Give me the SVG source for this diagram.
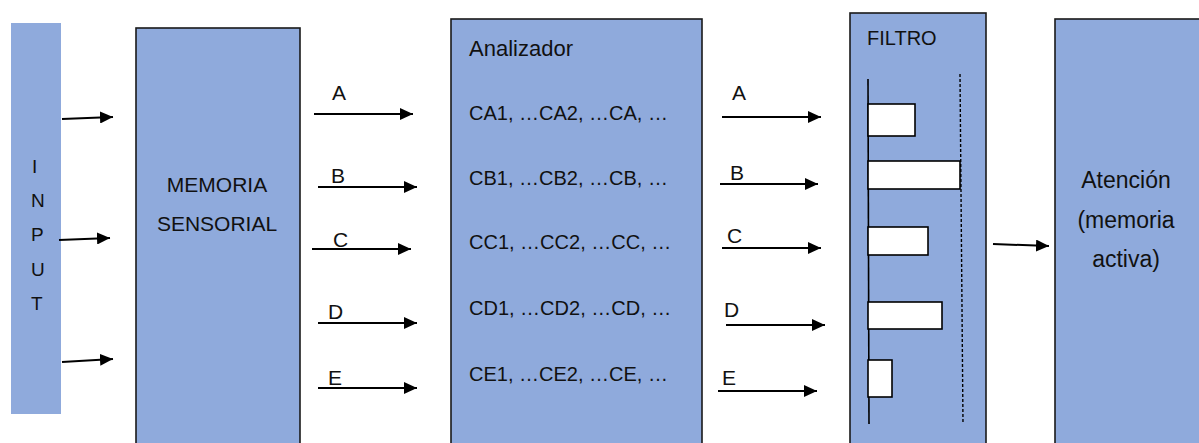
<svg xmlns="http://www.w3.org/2000/svg" width="1199" height="443" viewBox="0 0 1199 443">
<style>
.box{fill:#8FAADC;stroke:#1a1a1a;stroke-width:1.6}
.t{font-family:"Liberation Sans",Arial,sans-serif;fill:#111}
.arr{stroke:#000;stroke-width:2;fill:none;marker-end:url(#ah)}
.bar{fill:#fff;stroke:#000;stroke-width:1.6}
</style>
<defs>
<marker id="ah" markerUnits="userSpaceOnUse" markerWidth="14" markerHeight="12" refX="13" refY="6" orient="auto">
<path d="M0,0 L13,6 L0,12 z" fill="#000"/>
</marker>
</defs>
<rect x="0" y="0" width="1199" height="443" fill="#fff"/>
<g id="input">
<rect x="11" y="23" width="50" height="391" fill="#8FAADC"/>
<g class="t" font-size="19">
<text x="32" y="173">I</text>
<text x="31" y="207">N</text>
<text x="31" y="241">P</text>
<text x="31" y="276">U</text>
<text x="31" y="310">T</text>
</g>
</g>
<g id="memoria">
<rect class="box" x="136" y="28" width="164" height="430"/>
<text class="t" font-size="21" text-anchor="middle" x="217" y="192">MEMORIA</text>
<text class="t" font-size="21" text-anchor="middle" x="217" y="231">SENSORIAL</text>
</g>
<g id="analizador">
<rect class="box" x="451" y="19" width="251" height="440"/>
<g class="t" font-size="20">
<text x="469" y="56" font-size="22">Analizador</text>
<text x="469" y="120">CA1, …CA2, …CA, …</text>
<text x="469" y="185">CB1, …CB2, …CB, …</text>
<text x="469" y="249">CC1, …CC2, …CC, …</text>
<text x="469" y="315">CD1, …CD2, …CD, …</text>
<text x="469" y="381">CE1, …CE2, …CE, …</text>
</g>
</g>
<g id="filtro">
<rect class="box" x="850" y="13" width="136" height="446"/>
<text class="t" font-size="20" x="867" y="45">FILTRO</text>
<line x1="868" y1="79" x2="869" y2="424" stroke="#000" stroke-width="1.6"/>
<line x1="960" y1="74" x2="963" y2="424" stroke="#000" stroke-width="1.4" stroke-dasharray="3,2"/>
<rect class="bar" x="868" y="104" width="47" height="32"/>
<rect class="bar" x="868" y="161" width="92" height="28"/>
<rect class="bar" x="868" y="227" width="60" height="28"/>
<rect class="bar" x="868" y="302" width="74" height="27"/>
<rect class="bar" x="868" y="360" width="24" height="37"/>
</g>
<g id="atencion">
<rect class="box" x="1055" y="19" width="150" height="440"/>
<g class="t" font-size="23" text-anchor="middle">
<text x="1126" y="188">Atención</text>
<text x="1126" y="228">(memoria</text>
<text x="1126" y="267">activa)</text>
</g>
</g>
<g id="connectors">
<line class="arr" x1="62" y1="119" x2="113" y2="117"/>
<line class="arr" x1="59" y1="240" x2="110" y2="238"/>
<line class="arr" x1="62" y1="362" x2="113" y2="359"/>
<line class="arr" x1="314" y1="114" x2="413" y2="114"/>
<line class="arr" x1="318" y1="187" x2="417" y2="187"/>
<line class="arr" x1="312" y1="249" x2="411" y2="249"/>
<line class="arr" x1="318" y1="323" x2="417" y2="323"/>
<line class="arr" x1="318" y1="388" x2="417" y2="388"/>
<line class="arr" x1="722" y1="117" x2="821" y2="117"/>
<line class="arr" x1="720" y1="184" x2="818" y2="184"/>
<line class="arr" x1="722" y1="248" x2="821" y2="248"/>
<line class="arr" x1="726" y1="325" x2="825" y2="325"/>
<line class="arr" x1="718" y1="391" x2="817" y2="391"/>
<line class="arr" x1="993" y1="244" x2="1049" y2="246"/>
<g class="t" font-size="21">
<text x="332" y="100">A</text>
<text x="331" y="183">B</text>
<text x="333" y="247">C</text>
<text x="328" y="319">D</text>
<text x="328" y="385">E</text>
<text x="732" y="100">A</text>
<text x="730" y="180">B</text>
<text x="727" y="243">C</text>
<text x="724" y="317">D</text>
<text x="722" y="385">E</text>
</g>
</g>
</svg>
